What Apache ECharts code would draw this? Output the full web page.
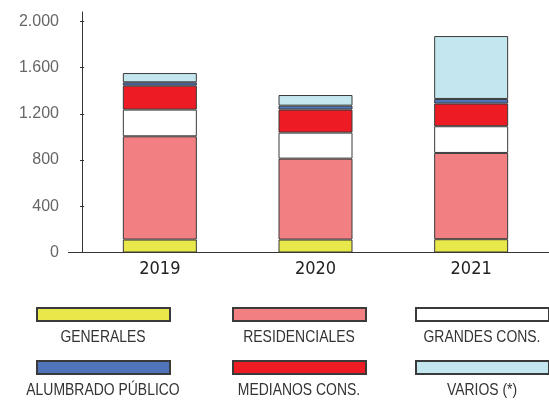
<!DOCTYPE html>
<html lang="es">
<head>
<meta charset="UTF-8">
<script src="https://cdn.jsdelivr.net/npm/echarts@6/dist/echarts.min.js"></script>
<title>Consumo por tipo de cliente</title>
</head>
<body style="margin: 0; background: #fff">
<div id="main" style="width: 549px; height: 400px"></div>
<script>
// datos
var years = ['2019', '2020', '2021'];
var names = ['GENERALES', 'RESIDENCIALES', 'GRANDES CONS.', 'MEDIANOS CONS.', 'ALUMBRADO PÚBLICO', 'VARIOS (*)'];
var generales = [112, 112, 115];
var residenciales = [893, 700, 746];
var grandes = [231, 225, 231];
var medianos = [207, 199, 196];
var alumbrado = [29, 34, 40];
var varios = [80, 92, 544];
var yTicks = [0, 400, 800, 1200, 1600, 2000];

var colors = ['#e8e84a', '#f28083', '#ffffff', '#ed1c24', '#5074b9', '#c4e7ef'];
var values = [generales, residenciales, grandes, medianos, alumbrado, varios];

var myChart = echarts.init(document.getElementById('main'));

var series = names.map(function (n, i) {
    return {
        name: n,
        type: 'bar',
        stack: 'total',
        barWidth: 74,
        data: values[i],
        itemStyle: {color: colors[i], borderColor: '#3a3a3a', borderWidth: 1},
        emphasis: {disabled: true}
    };
});

// leyenda: 3 columnas x 2 filas, rect arriba y texto abajo
var legLeft = [36, 232, 415];
var legTop = [307, 360];
var legOrder = [0, 1, 2, 4, 3, 5];
var legends = [];
var texts = [];
legOrder.forEach(function (idx, k) {
    var col = k % 3, row = Math.floor(k / 3);
    legends.push({
        data: [names[idx]],
        left: legLeft[col],
        top: legTop[row],
        padding: 0,
        itemWidth: 133,
        itemHeight: 13,
        icon: 'rect',
        selectedMode: false,
        formatter: function () { return ''; },
        textStyle: {fontSize: 6}
    });
    // texto condensado: Liberation Sans escalado en x
    texts.push({
        type: 'text',
        x: legLeft[col] + 67,
        y: legTop[row] + 30,
        scaleX: 0.82,
        style: {
            text: names[idx],
            align: 'center',
            verticalAlign: 'middle',
            font: '17px "Liberation Sans", Arial, sans-serif',
            fill: '#333'
        }
    });
});

var option = {
    animation: false,
    grid: {left: 82, top: 12, width: 475, height: 240.5},
    legend: legends,
    xAxis: [{
        type: 'category',
        data: years,
        axisLine: {lineStyle: {color: '#333', width: 1}},
        axisTick: {length: 4, lineStyle: {color: '#333'}},
        axisLabel: {color: '#222', fontSize: 18, fontFamily: '"DejaVu Sans Condensed", sans-serif', margin: 8}
    }, {
        type: 'category',
        data: years,
        position: 'bottom',
        axisLine: {show: false},
        axisTick: {inside: true, length: 4, lineStyle: {color: '#333'}},
        axisLabel: {show: false}
    }],
    yAxis: [{
        type: 'value',
        min: 0,
        max: 2080,
        splitLine: {show: false},
        axisLine: {show: true, lineStyle: {color: '#333'}},
        axisTick: {show: true, length: 2, customValues: yTicks, lineStyle: {color: '#333'}},
        axisLabel: {
            customValues: yTicks,
            color: '#666',
            fontSize: 16,
            fontFamily: '"Liberation Sans", Arial, sans-serif',
            margin: 23,
            formatter: function (v) {
                return String(v).replace(/\B(?=(\d{3})+(?!\d))/g, '.');
            }
        }
    }, {
        type: 'value',
        min: 0,
        max: 2080,
        position: 'left',
        splitLine: {show: false},
        axisLine: {show: false},
        axisTick: {show: true, inside: true, length: 2, customValues: yTicks, lineStyle: {color: '#333'}},
        axisLabel: {show: false}
    }],
    graphic: [{
        type: 'line',
        shape: {x1: 68, y1: 252.5, x2: 82, y2: 252.5},
        style: {stroke: '#333', lineWidth: 1}
    }].concat(texts),
    series: series
};
myChart.setOption(option);
</script>
</body>
</html>
